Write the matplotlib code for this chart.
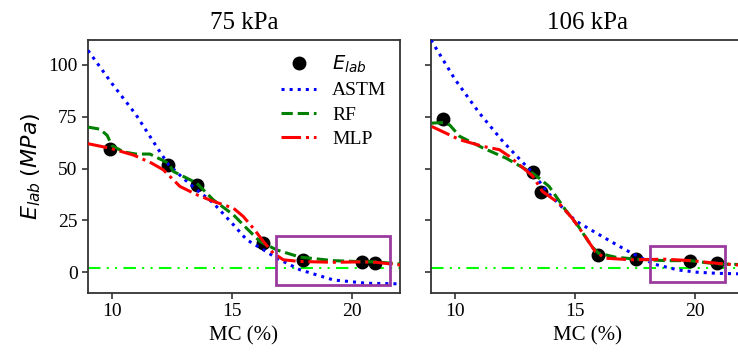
import matplotlib
matplotlib.use("Agg")
import matplotlib.pyplot as plt
from matplotlib.patches import Rectangle

plt.rcParams['font.family'] = ['Liberation Serif', 'DejaVu Serif']
plt.rcParams['mathtext.fontset'] = 'dejavusans'

# panel titles
titles = ["75 kPa", "106 kPa"]

# lab measurements
mc_lab = [
    [9.92, 12.35, 13.53, 16.3, 17.97, 20.4, 20.96],
    [9.48, 13.23, 13.57, 15.95, 17.54, 19.8, 20.9],
]
e_lab = [
    [59.5, 51.5, 42.2, 14.0, 5.9, 4.8, 4.6],
    [73.9, 48.3, 38.5, 8.4, 6.3, 5.6, 4.3],
]

# ASTM curves
mc_astm = [
    [9, 10, 11, 12, 12.35, 13, 13.53, 14.22, 15.06, 15.61, 16.31, 16.86, 17.83, 19.22, 20.6, 22],
    [9, 10, 11, 12, 13.23, 13.9, 15.0, 15.43, 16.5, 17.36, 18.3, 19.3, 20.1, 20.9, 22],
]
e_astm = [
    [107, 91, 76, 58, 52, 45, 39.8, 33.4, 22.9, 15.7, 10.8, 6.8, 1.2, -3.7, -5.3, -5.6],
    [112, 93, 77, 63, 48, 38, 25, 22, 14.8, 9.2, 3.9, 1.1, 0.0, -0.5, -0.8],
]

# RF predictions
mc_rf = [
    [9, 9.5, 9.8, 10.0, 10.5, 11.0, 11.58, 12.35, 12.56, 13.53, 14.22, 15.06, 15.61, 16.17, 16.86, 17.83, 19.22, 20.4, 21.0, 22],
    [9.03, 9.51, 9.78, 10.2, 11.17, 12.13, 13.23, 13.5, 13.92, 14.6, 15.15, 15.7, 15.98, 16.67, 17.54, 18.73, 19.79, 20.89, 22],
]
e_rf = [
    [70, 69, 66, 61, 58, 57, 57, 52.6, 48.6, 43, 34.9, 27.7, 21.2, 14.8, 10.8, 7.3, 5.6, 5.1, 5.0, 4.0],
    [71.9, 72.2, 71, 65.5, 59.9, 55, 47.8, 45.4, 41.4, 30.1, 22, 12.4, 9.2, 7.3, 6.3, 5.6, 5.6, 4.0, 3.7],
]

# MLP predictions
mc_mlp = [
    [9, 9.92, 10.9, 11.64, 12.14, 12.83, 13.53, 14.22, 15.06, 15.47, 15.89, 16.31, 16.72, 17.14, 17.83, 19.2, 20.4, 21.0, 22],
    [9.03, 10.2, 11.17, 11.85, 12.26, 13.23, 13.64, 14.33, 14.88, 15.43, 15.84, 16.25, 17.35, 18.73, 19.83, 20.93, 22],
]
e_mlp = [
    [62, 59.8, 56.5, 52.7, 49.4, 41.4, 37.4, 34.2, 30.9, 26.9, 21.2, 14.8, 9.2, 6.0, 5.2, 4.8, 5.0, 4.8, 3.5],
    [70.3, 63.9, 60.7, 59.1, 55.9, 46.5, 39, 33.3, 26.1, 17.2, 10, 6.8, 6.0, 6.3, 5.6, 4.3, 3.3],
]

# threshold line and highlight boxes (x0, y0, width, height)
threshold = 2.0
boxes = [(16.83, -6.1, 4.77, 23.6), (18.13, -4.8, 3.13, 17.5)]

fig = plt.figure(figsize=(7.38, 3.58), dpi=100)
ax_pos = [[0.1192, 0.1816, 0.4228, 0.7067], [0.584, 0.1816, 0.4228, 0.7067]]

for i in range(2):
    ax = fig.add_axes(ax_pos[i])
    ax.plot(mc_lab[i], e_lab[i], 'o', color='black', ms=9, zorder=2, label='$E_{lab}$')
    ax.plot(mc_astm[i], e_astm[i], ':', color='blue', lw=2.2, zorder=3, label='ASTM')
    ax.plot(mc_rf[i], e_rf[i], '--', color='green', lw=2.2, zorder=3, label='RF')
    ax.plot(mc_mlp[i], e_mlp[i], '-.', color='red', lw=2.2, zorder=4, label='MLP')
    ax.axhline(threshold, color='lime', lw=1.5, ls=(0, (6, 3, 1, 3, 1, 3)), zorder=1)
    x0, y0, w, h = boxes[i]
    ax.add_patch(Rectangle((x0, y0), w, h, fill=False, ec='#9a3a9e', lw=2, zorder=5))

    ax.set_xlim(9, 22)
    ax.set_ylim(-10, 112)
    ax.set_xticks([10, 15, 20])
    ax.set_yticks([0, 25, 50, 75, 100])
    ax.tick_params(labelsize=14, length=4, width=1.2, color='#333333')
    for sp in ax.spines.values():
        sp.set_color('#333333')
        sp.set_linewidth(1.3)
    ax.set_title(titles[i], fontsize=18, pad=8)
    ax.set_xlabel('MC (%)', fontsize=15)
    if i == 0:
        ax.set_ylabel('$E_{lab}$ $(MPa)$', fontsize=16, labelpad=4)
        ax.legend(loc='upper right', frameon=False, fontsize=14, handlelength=1.8,
                  borderaxespad=0.3, labelspacing=0.35)
    else:
        ax.tick_params(labelleft=False)

fig.savefig('out.png', dpi=100)
